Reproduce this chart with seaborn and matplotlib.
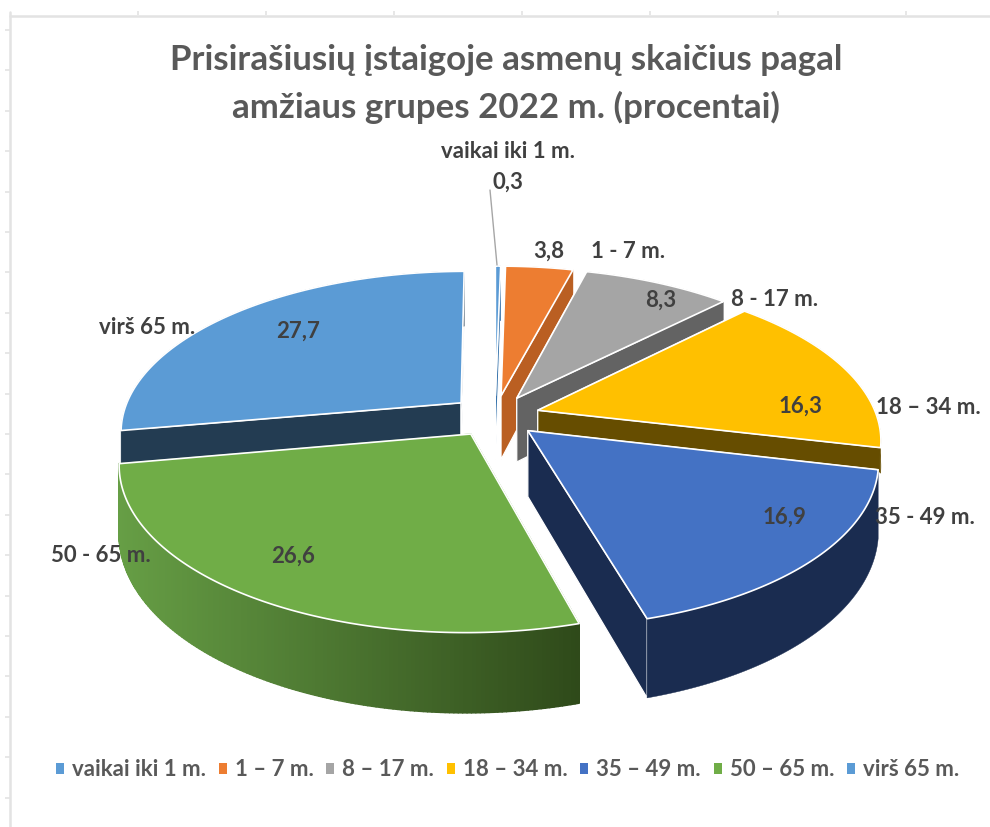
import numpy as np
import matplotlib
matplotlib.use("Agg")
import matplotlib.pyplot as plt
from matplotlib.collections import PolyCollection
from matplotlib.patches import Patch, Polygon
import matplotlib.colors as mc
import seaborn as sns

# ---- data ----
legend_labels = ["vaikai iki 1 m.", "1 – 7 m.", "8 – 17 m.", "18 – 34 m.", "35 – 49 m.", "50 – 65 m.", "virš 65 m."]
point_labels = ["vaikai iki 1 m.", "1 - 7 m.", "8 - 17 m.", "18 – 34 m.", "35 - 49 m.", "50 - 65 m.", "virš 65 m."]
values = [0.3, 3.8, 8.3, 16.3, 16.9, 26.6, 27.7]
value_text = ["0,3", "3,8", "8,3", "16,3", "16,9", "26,6", "27,7"]
title_lines = ["Prisirašiusių įstaigoje asmenų skaičius pagal", "amžiaus grupes 2022 m. (procentai)"]

top_colors = ["#5B9BD5", "#ED7D31", "#A5A5A5", "#FFC000", "#4472C4", "#70AD47", "#5B9BD5"]
side_colors = ["#2E6DA8", "#BA5F22", "#636363", "#664D00", "#1A2C50", "#5F9440", "#233C52"]

# ---- layout (pixels) ----
W, H = 990, 827
CX, CY = 495, 416
B, A, D, K = 339, 158, 65, 0.17
EXPLODE = 0.132
depth_scale = [1, 1, 1, 0.38, 1, 1, 1]
value_pos = [(508, 182), (549, 251), (661, 300), (800, 406), (784, 517), (293, 556), (298, 331)]
label_pos = [(508, 151), (628, 252), (775, 300), (928, 408), (925, 517), (101, 555), (147, 328)]

sns.set_theme(style="white")
plt.rcParams["font.family"] = ["Lato", "DejaVu Sans"]
fig = plt.figure(figsize=(W / 100, H / 100), dpi=100)
ax = fig.add_axes([0, 0, 1, 1])
ax.set_xlim(0, W)
ax.set_ylim(H, 0)
ax.axis("off")

palette = sns.color_palette(top_colors)

def project(theta, r, z, mid):
    t, m = np.radians(theta), np.radians(mid)
    u = r * np.sin(t) + EXPLODE * np.sin(m)
    v = -(r * np.cos(t) + EXPLODE * np.cos(m))
    s = 1 / (1 - K * v)
    return CX + B * u * s, CY + (A * v + D * z) * s

edges = np.concatenate([[0], np.cumsum(values)]) * 3.6

def draw_wedge(i, zbase):
    a0, a1 = edges[i], edges[i + 1]
    mid = (a0 + a1) / 2
    th = np.linspace(a0, a1, 160)
    depth = depth_scale[i]
    xt, yt = project(th, 1.0, 0, mid)
    xb, yb = project(th, 1.0, depth, mid)
    tx0, ty0 = project(0.0, 0.0, 0, mid)
    tx1, ty1 = project(0.0, 0.0, depth, mid)
    side = side_colors[i]
    # cut faces
    for xa, ya, xc, yc in [(xt[0], yt[0], xb[0], yb[0]), (xt[-1], yt[-1], xb[-1], yb[-1])]:
        ec = "white" if i != 5 else side
        ax.add_patch(Polygon([(tx0, ty0), (xa, ya), (xc, yc), (tx1, ty1)], closed=True,
                             facecolor=side, edgecolor=ec, lw=0.9, zorder=zbase))
    # rim
    if i == 5:
        quads = [[(xt[j], yt[j]), (xt[j + 1], yt[j + 1]), (xb[j + 1], yb[j + 1]), (xb[j], yb[j])]
                 for j in range(len(th) - 1)]
        f = (xt[:-1] - xt.min()) / (xt.max() - xt.min())
        c0, c1 = np.array(mc.to_rgb("#669E45")), np.array(mc.to_rgb("#2F4A1A"))
        cols = [tuple(c0 + (c1 - c0) * q) for q in f]
        ax.add_collection(PolyCollection(quads, facecolors=cols, edgecolors=cols, linewidths=1.2,
                                         zorder=zbase + 0.1))
    else:
        rim = list(zip(xt, yt)) + list(zip(xb[::-1], yb[::-1]))
        ax.add_patch(Polygon(rim, closed=True, facecolor=side, edgecolor=side, lw=0.3, zorder=zbase + 0.1))
    # top
    pts = [(tx0, ty0)] + list(zip(xt, yt))
    ax.add_patch(Polygon(pts, closed=True, facecolor=palette[i], edgecolor="white", lw=1.2,
                         joinstyle="round", zorder=zbase + 0.2))

for z, i in enumerate([0, 1, 2, 3, 4, 6, 5]):
    draw_wedge(i, 2 + z)

# spreadsheet rulers behind the chart
ruler = "#E3E3E3"
ax.plot([10, 10], [12, H], color=ruler, lw=1.8, zorder=1)
ax.plot([10, W], [15.5, 15.5], color=ruler, lw=1.8, zorder=1)
ax.vlines(np.arange(138, W, 128), 11, 15, color=ruler, lw=1.2, zorder=1)
ax.hlines(np.arange(30, H, 40.4), 5, 10, color=ruler, lw=1.2, zorder=1)

# leader line
ax.plot([490, 497], [190, 265], color="#A6A6A6", lw=1, zorder=20)

# text
dark = "#404040"
for t, (x, y) in zip(value_text, value_pos):
    ax.text(x, y, t, ha="center", va="center", fontsize=16, fontweight="bold", color=dark, zorder=30)
for t, (x, y) in zip(point_labels, label_pos):
    ax.text(x, y, t, ha="center", va="center", fontsize=16, fontweight="bold", color=dark, zorder=30)
for t, y in zip(title_lines, [60, 107]):
    ax.text(506, y, t, ha="center", va="center", fontsize=25.1, fontweight="bold", color="#595959", zorder=30)

handles = [Patch(facecolor=c, edgecolor="none", label=l) for c, l in zip(palette, legend_labels)]
leg = ax.legend(handles=handles, ncol=7, loc="center", bbox_to_anchor=(507.5 / W, 1 - 770 / H),
                frameon=False, handlelength=0.36, handleheight=0.36, handletextpad=0.36,
                columnspacing=0.57, borderpad=0, prop={"family": ["Lato", "DejaVu Sans"], "weight": "bold", "size": 16},
                labelcolor="#595959")
leg.set_zorder(30)

fig.savefig("out.png", dpi=100, facecolor="white")
